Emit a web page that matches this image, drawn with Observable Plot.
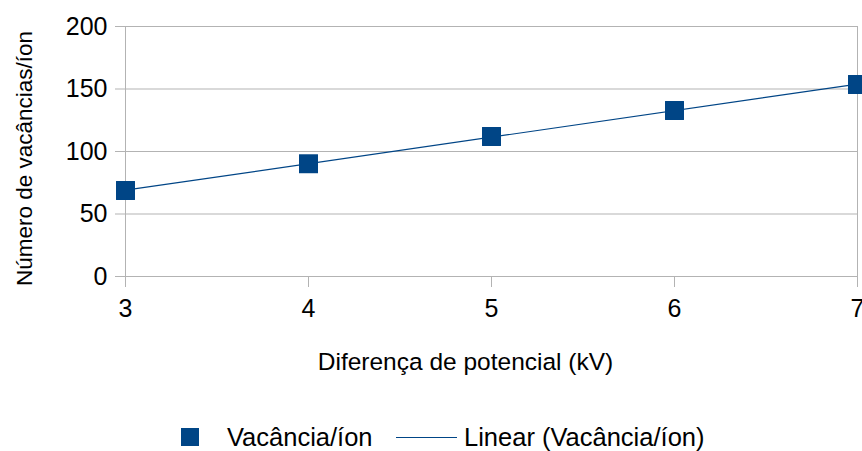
<!DOCTYPE html>
<html>
<head>
<meta charset="utf-8">
<script src="https://cdn.jsdelivr.net/npm/d3@7"></script>
<script src="https://cdn.jsdelivr.net/npm/@observablehq/plot@0.6"></script>
<style>
  html, body { margin: 0; padding: 0; background: #fff; }
  body { width: 862px; height: 451px; overflow: hidden; font-family: "Liberation Sans", Arial, sans-serif; }
  #legend { position: relative; width: 862px; height: 51px; font-size: 25.5px; color: #000; }
  #legend .sq { position: absolute; left: 181px; top: 28px; width: 18px; height: 18px; background: #004586; }
  #legend .t1 { position: absolute; left: 227px; top: 22px; line-height: 30px; white-space: nowrap; }
  #legend .ln { position: absolute; left: 396px; top: 37px; width: 61px; height: 0; border-top: 1.3px solid #004586; }
  #legend .t2 { position: absolute; left: 464px; top: 22px; line-height: 30px; white-space: nowrap; }
</style>
</head>
<body>
<div id="chart"></div>
<div id="legend">
  <div class="sq"></div><div class="t1">Vacância/íon</div>
  <div class="ln"></div><div class="t2">Linear (Vacância/íon)</div>
</div>
<script>
const voltages = [3, 4, 5, 6, 7];
const vacancies = [68.8, 90.2, 112, 132.8, 153.6];
const yTicks = [0, 50, 100, 150, 200];
const xLabel = "Diferença de potencial (kV)";
const yLabel = "Número de vacâncias/íon";

const data = voltages.map((v, i) => ({x: v, y: vacancies[i]}));
const blue = "#004586";
const grid = "#b3b3b3";

const chart = Plot.plot({
  width: 862,
  height: 400,
  marginLeft: 125,
  marginRight: 5,
  marginTop: 26,
  marginBottom: 124,
  style: {fontFamily: '"Liberation Sans", Arial, sans-serif', background: "#fff", color: "#000", overflow: "visible"},
  x: {domain: [3, 7], ticks: voltages, label: null},
  y: {domain: [0, 200], ticks: yTicks, label: null},
  marks: [
    Plot.gridY(yTicks, {stroke: grid, strokeOpacity: 1, strokeWidth: 1}),
    Plot.ruleX([3, 7], {y1: 0, y2: 200, stroke: grid, strokeWidth: 1}),
    Plot.axisX(voltages, {tickSize: 11, stroke: grid, strokeOpacity: 1, text: null, label: null}),
    Plot.axisY(yTicks, {tickSize: 10, stroke: grid, strokeOpacity: 1, text: null, label: null}),
    Plot.text(voltages, {x: d => d, text: d => String(d), frameAnchor: "bottom", dy: 40, fontSize: 25, fill: "#000"}),
    Plot.text(yTicks, {y: d => d, text: d => String(d), frameAnchor: "left", dx: -18, textAnchor: "end", fontSize: 25, fill: "#000"}),
    Plot.text([xLabel], {text: d => d, frameAnchor: "bottom", dx: -26, dy: 93, fontSize: 24.5, fill: "#000"}),
    Plot.text([yLabel], {text: d => d, frameAnchor: "left", textAnchor: "middle", dx: -101, dy: 7, rotate: -90, fontSize: 22.5, fill: "#000"}),
    Plot.linearRegressionY(data, {x: "x", y: "y", stroke: blue, strokeWidth: 1.2, ci: 0}),
    Plot.dot(data, {x: "x", y: "y", symbol: "square", r: 10.7, fill: blue, stroke: "none"})
  ]
});
document.getElementById("chart").appendChild(chart);
</script>
</body>
</html>
